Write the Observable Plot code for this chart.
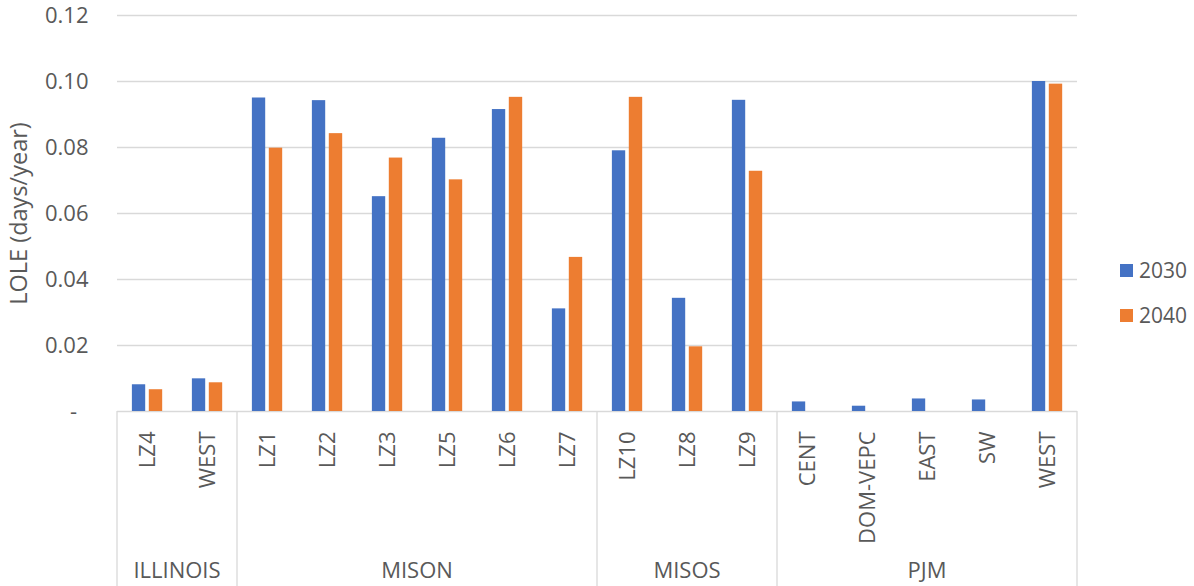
<!DOCTYPE html>
<html><head><meta charset="utf-8">
<script src="https://cdn.jsdelivr.net/npm/d3@7"></script>
<script src="https://cdn.jsdelivr.net/npm/@observablehq/plot@0.6"></script>
<style>
html,body{margin:0;padding:0;background:#fff;}
#wrap{position:relative;width:1194px;height:586px;font-family:"Open Sans",sans-serif;color:#595959;}
#legend{position:absolute;left:1120px;top:248px;font-size:21px;line-height:45px;}
#legend .item{display:flex;align-items:center;height:45px;}
#legend .sw{width:13px;height:13px;margin-right:6px;}
</style></head><body><div id="wrap"><div id="legend"></div></div>
<script>
const groups = ["ILLINOIS","ILLINOIS","MISON","MISON","MISON","MISON","MISON","MISON","MISOS","MISOS","MISOS","PJM","PJM","PJM","PJM","PJM"];
const zones = ["LZ4","WEST","LZ1","LZ2","LZ3","LZ5","LZ6","LZ7","LZ10","LZ8","LZ9","CENT","DOM-VEPC","EAST","SW","WEST"];
const lole2030 = [0.0081,0.0099,0.0950,0.0942,0.0651,0.0828,0.0915,0.0311,0.0790,0.0343,0.0943,0.0029,0.0016,0.0038,0.0035,0.1000];
const lole2040 = [0.0066,0.0087,0.0798,0.0842,0.0768,0.0702,0.0952,0.0467,0.0952,0.0196,0.0728,0,0,0,0,0.0992];
const years = ["2030","2040"];
const colors = ["#4472C4","#ED7D31"];
const yTicks = [0,0.02,0.04,0.06,0.08,0.10,0.12];
const yTitle = "LOLE (days/year)";

const keys = zones.map((z,i) => groups[i] + "|" + z);
const rows = zones.map((z,i) => ({key: keys[i], group: groups[i], zone: z, v2030: lole2030[i], v2040: lole2040[i]}));

const W = 1194, H = 586, mL = 117, mR = 117, mT = 15, mB = 175;
const bw = (W - mL - mR) / zones.length;
const grey = "#d9d9d9";

const chart = Plot.plot({
  width: W, height: H,
  marginLeft: mL, marginRight: mR, marginTop: mT, marginBottom: mB,
  style: {fontFamily: "Open Sans", fontSize: "22px", color: "#595959", background: "white", overflow: "visible"},
  x: {domain: keys, padding: 0, label: null, tickFormat: k => k.split("|")[1], tickRotate: -90, tickSize: 0, tickPadding: 20},
  y: {domain: [0, 0.12], ticks: yTicks, label: null, tickSize: 0, tickPadding: 29,
      tickFormat: d => d === 0 ? "-\u00a0\u00a0" : d3.format(".2f")(d)},
  marks: [
    Plot.ruleY(yTicks, {stroke: grey, strokeWidth: 1.3}),
    Plot.barY(rows, {x: "key", y: "v2030", fill: colors[0], insetLeft: bw * 0.248, insetRight: bw * 0.53}),
    Plot.barY(rows, {x: "key", y: "v2040", fill: colors[1], insetLeft: bw * 0.53, insetRight: bw * 0.247}),
    Plot.text([yTitle], {frameAnchor: "left", textAnchor: "middle", dx: -98, rotate: -90, fontSize: 23.5, fill: "#595959"})
  ]
});

// group separators and labels from the x scale
const sx = chart.scale("x"), sy = chart.scale("y");
const svg = d3.select(chart);
const y0 = sy.apply(0);
const gNames = [...new Set(groups)];
const gl = svg.append("g");
gNames.forEach((g, gi) => {
  const ks = keys.filter(k => k.startsWith(g + "|"));
  const x1 = sx.apply(ks[0]);
  const x2 = sx.apply(ks[ks.length - 1]) + sx.bandwidth;
  gl.append("line").attr("x1", x1).attr("x2", x1).attr("y1", y0).attr("y2", H).attr("stroke", grey).attr("stroke-width", 1.3);
  if (gi === gNames.length - 1) gl.append("line").attr("x1", x2).attr("x2", x2).attr("y1", y0).attr("y2", H).attr("stroke", grey).attr("stroke-width", 1.3);
  gl.append("text").attr("x", (x1 + x2) / 2).attr("y", H - 8).attr("text-anchor", "middle")
    .attr("font-family", "Open Sans").attr("font-size", 22).attr("fill", "#595959").text(g);
});

document.getElementById("wrap").prepend(chart);
const leg = d3.select("#legend");
years.forEach((y, i) => {
  const it = leg.append("div").attr("class", "item");
  it.append("div").attr("class", "sw").style("background", colors[i]);
  it.append("span").text(y);
});
</script></body></html>
